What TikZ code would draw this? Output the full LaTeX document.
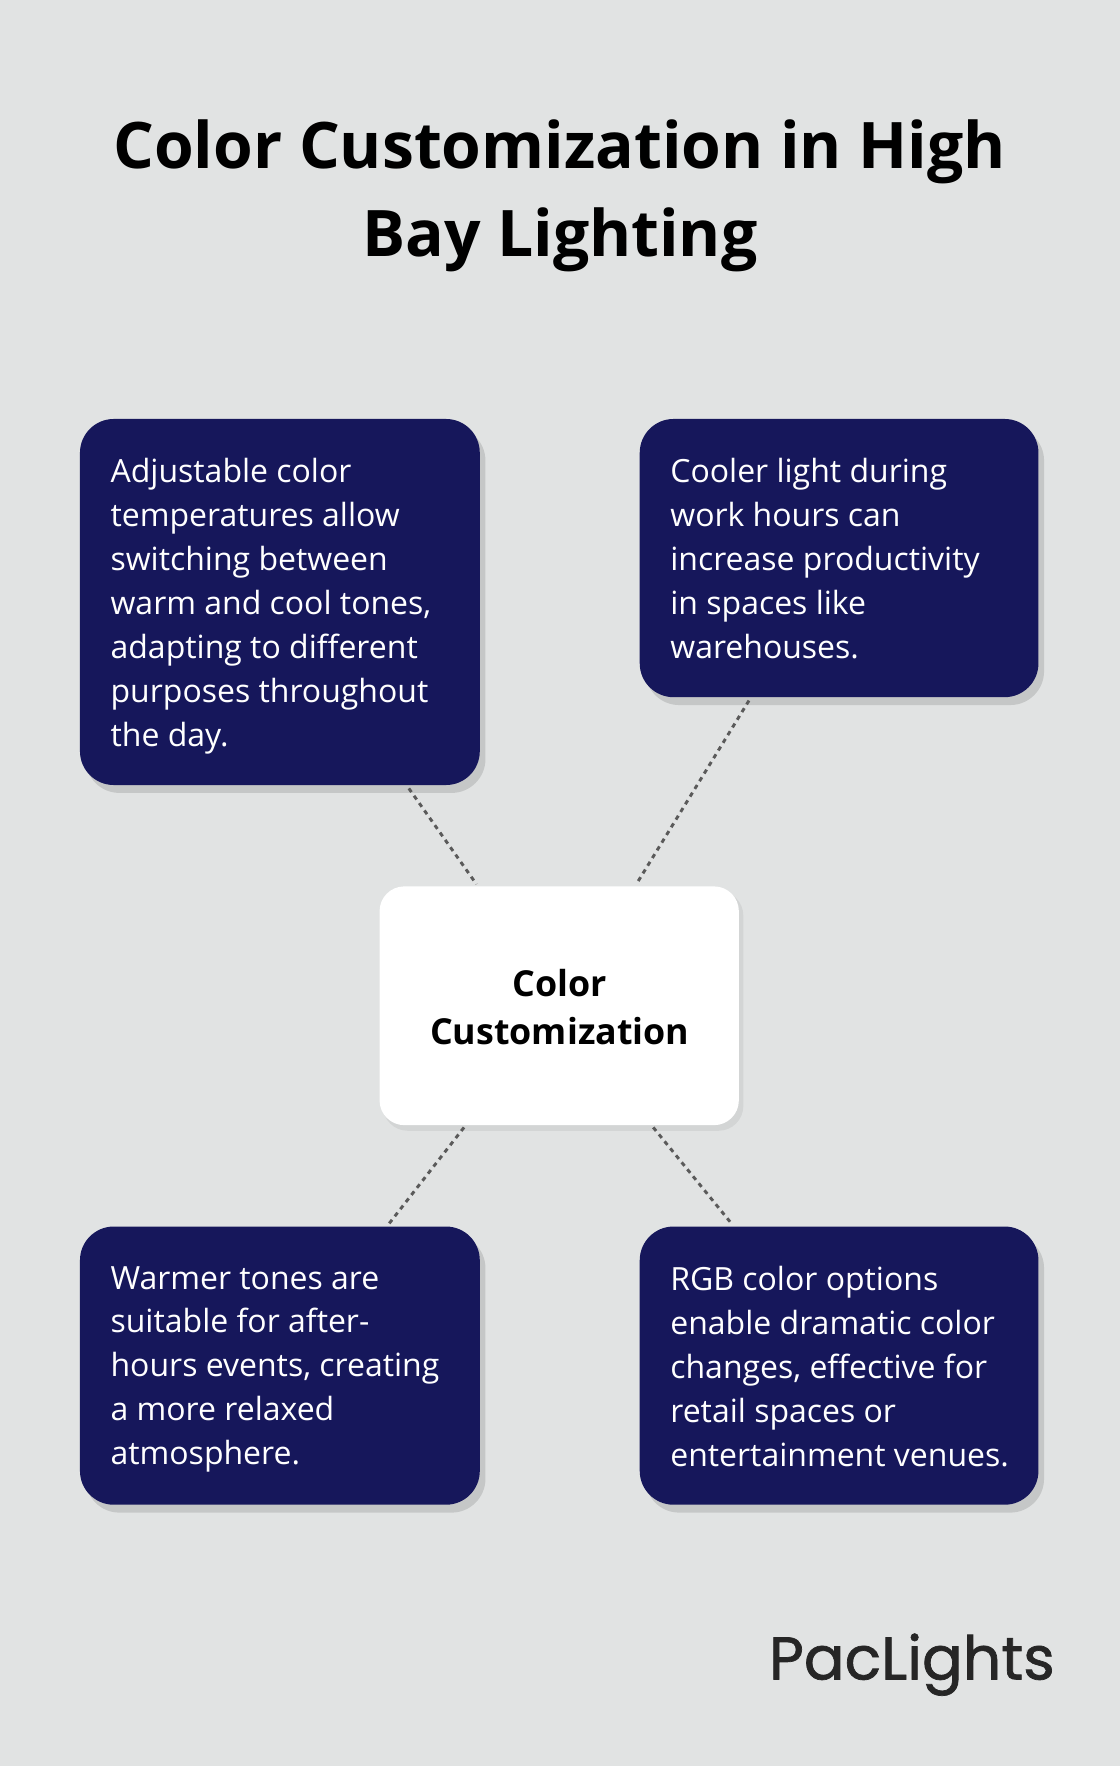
\documentclass[tikz,border=0pt]{standalone}
\usepackage{fontspec}
\setmainfont{Open Sans}
\newfontfamily\logofont[FakeBold=1.2]{Poppins}
\definecolor{bg}{HTML}{E1E3E3}
\definecolor{navy}{HTML}{16175B}
\definecolor{dotc}{HTML}{5A5A5A}
\begin{document}
\begin{tikzpicture}[x=1pt,y=-1pt,
  card/.style={fill=navy,rounded corners=30pt,draw=none},
  shade/.style={fill=black,opacity=0.12,rounded corners=30pt},
  txt/.style={anchor=north west,align=left,text=white,font=\fontsize{28.4}{39}\selectfont,inner sep=0pt},
  conn/.style={draw=dotc,line width=2.6pt,dash pattern=on 4pt off 4pt}]
\fill[bg] (0,0) rectangle (994,1568);
\useasboundingbox (0,0) rectangle (994,1568);
\node[align=center,font=\fontsize{57}{78}\selectfont\bfseries] (title) at (497,174) {Color Customization in High\\Bay Lighting};
\foreach \a/\b/\c/\d in {71/372/426/697,568/372/922/619,71/1089/426/1336,568/1089/922/1336}
  \fill[shade] (\a+5,\b+7) rectangle (\c+5,\d+7);
\fill[card] (71,372) rectangle (426,697);
\fill[card] (568,372) rectangle (922,619);
\fill[card] (71,1089) rectangle (426,1336);
\fill[card] (568,1089) rectangle (922,1336);
\fill[black,opacity=0.06,rounded corners=22pt] (340,791) rectangle (660,1004);
\fill[white,rounded corners=22pt] (337,787) rectangle (656,999);
\node[txt] (t1) at (98,407) {Adjustable color\\temperatures allow\\switching between\\warm and cool tones,\\adapting to different\\purposes throughout\\the day.};
\node[txt] (t2) at (595,407) {Cooler light during\\work hours can\\increase productivity\\in spaces like\\warehouses.};
\node[txt] (t3) at (98,1124) {Warmer tones are\\suitable for after-\\hours events, creating\\a more relaxed\\atmosphere.};
\node[txt] (t4) at (595,1124) {RGB color options\\enable dramatic color\\changes, effective for\\retail spaces or\\entertainment venues.};
\node[align=center,font=\fontsize{31.8}{43}\selectfont\bfseries] (c) at (497,894) {Color\\Customization};
\coordinate (a1) at (363,700); \coordinate (a2) at (423,785);
\coordinate (b1) at (665,622); \coordinate (b2) at (565,785);
\coordinate (c1) at (412,1001); \coordinate (c2) at (345,1087);
\coordinate (d1) at (580,1001); \coordinate (d2) at (650,1087);
\draw[conn] (a1) -- (a2);
\draw[conn] (b1) -- (b2);
\draw[conn] (c1) -- (c2);
\draw[conn] (d1) -- (d2);
\node[font=\fontsize{53.5}{53.5}\selectfont\logofont,text=black!85,anchor=east] (logo) at (940,1478) {PacLights};
\end{tikzpicture}
\end{document}
